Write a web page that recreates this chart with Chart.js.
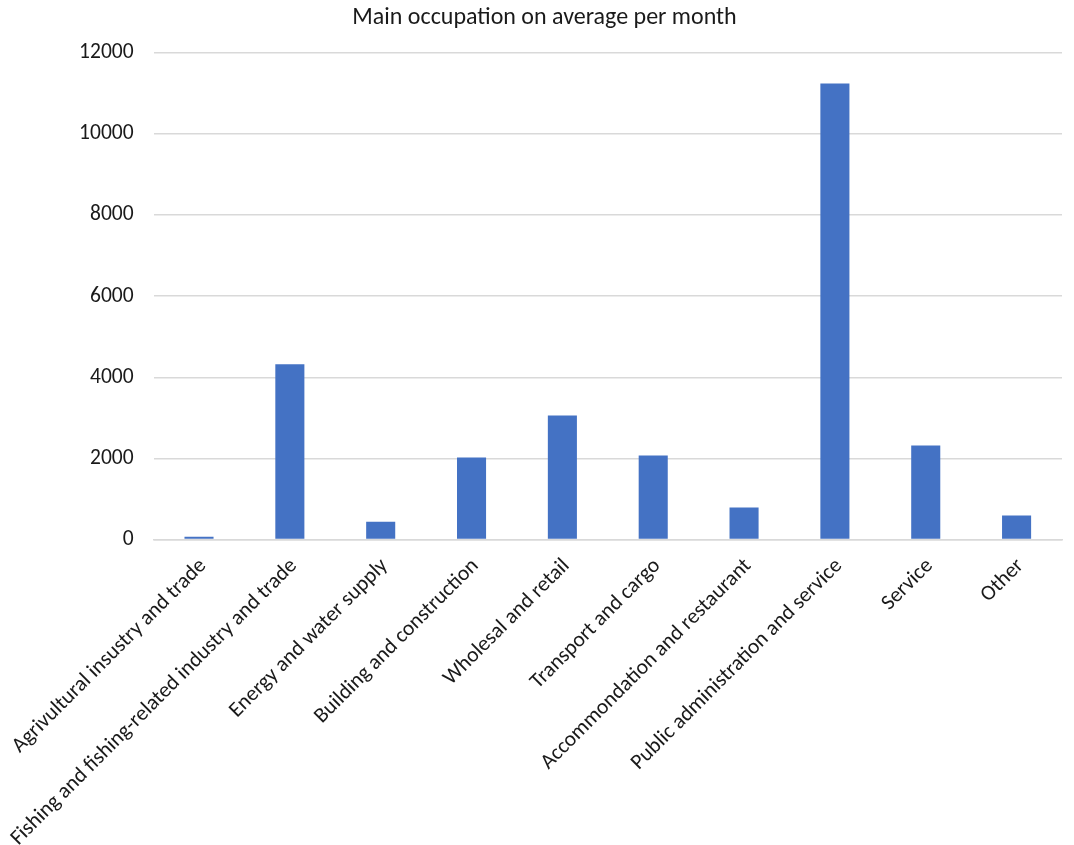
<!DOCTYPE html>
<html>
<head>
<meta charset="utf-8">
<script src="https://cdn.jsdelivr.net/npm/chart.js@4"></script>
<style>
  html, body { margin: 0; padding: 0; background: #fff; }
  #wrap { width: 1074px; height: 845px; }
</style>
</head>
<body>
<div id="wrap"><canvas id="occupationChart" width="1074" height="845"></canvas></div>
<script>
// categories and values
const categories = [
  'Agrivultural insustry and trade',
  'Fishing and fishing-related industry and trade',
  'Energy and water supply',
  'Building and construction',
  'Wholesal and retail',
  'Transport and cargo',
  'Accommondation and restaurant',
  'Public administration and service',
  'Service',
  'Other'
];
const monthlyAverage = [70, 4320, 440, 2020, 3060, 2070, 790, 11240, 2320, 590];
const yTicks = [0, 2000, 4000, 6000, 8000, 10000, 12000];

const fontFamily = "Carlito, 'Open Sans', Lato, sans-serif";

const ctx = document.getElementById('occupationChart').getContext('2d');
new Chart(ctx, {
  type: 'bar',
  data: {
    labels: categories,
    datasets: [{
      label: 'Main occupation on average per month',
      data: monthlyAverage,
      backgroundColor: '#4472C4',
      barPercentage: 0.32,
      categoryPercentage: 1.0
    }]
  },
  options: {
    responsive: false,
    animation: false,
    layout: { padding: { left: 27, right: 12, top: 2, bottom: -12 } },
    plugins: {
      legend: { display: false },
      tooltip: { enabled: false },
      title: {
        display: true,
        text: 'Main occupation on average per month',
        color: '#1a1a1a',
        font: { family: fontFamily, size: 24, weight: 'normal' },
        padding: { top: 2, bottom: 20 }
      }
    },
    scales: {
      x: {
        grid: { display: false },
        border: { display: true, color: '#d9d9d9', width: 1.5 },
        ticks: {
          color: '#1a1a1a',
          font: { family: fontFamily, size: 21.5 },
          minRotation: 45,
          maxRotation: 45,
          autoSkip: false,
          padding: 6,
          labelOffset: 4
        }
      },
      y: {
        min: 0,
        max: 12000,
        afterBuildTicks: axis => { axis.ticks = yTicks.map(v => ({ value: v })); },
        grid: { color: '#d9d9d9', lineWidth: 1.5, drawTicks: false },
        border: { display: false },
        ticks: {
          color: '#1a1a1a',
          font: { family: fontFamily, size: 21.5 },
          padding: 20,
          callback: v => String(v)
        }
      }
    }
  }
});
</script>
</body>
</html>
